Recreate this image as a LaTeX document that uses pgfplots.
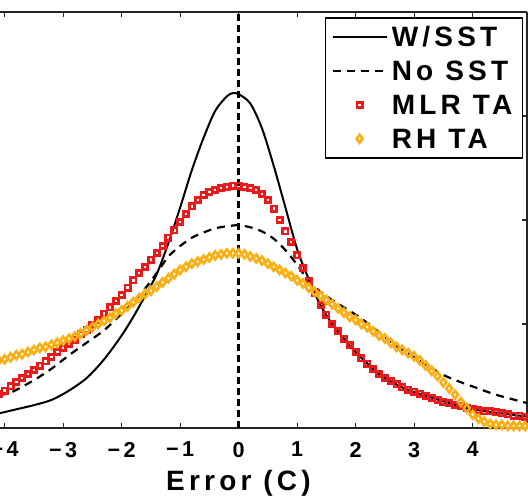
\documentclass[border=0pt]{standalone}
\usepackage{fontspec}
\setmainfont{Liberation Sans}
\newfontfamily\lsfont[LetterSpace=15]{Liberation Sans}
\usepackage{pgfplots}
\pgfplotsset{compat=1.18}
\definecolor{mred}{RGB}{235,25,25}
\definecolor{morange}{RGB}{250,175,20}
\begin{document}
\begin{tikzpicture}
\begin{axis}[
  scale only axis, width=263.5pt, height=208pt,
  xmin=-4.08, xmax=4.93, ymin=0, ymax=0.4,
  axis x line*=box, axis y line*=right,
  tick align=inside,
  clip=false,
  xtick={-4,-3,-2,-1,0,1,2,3,4},
  xticklabels={−4,−3,−2,−1,0,1,2,3,4},
  ytick={0,0.1,0.2,0.3,0.4}, yticklabels={},
  major tick length=2.5pt,
  axis line style={line width=0.8pt, black!85},
  tick style={line width=0.6pt, black!85},
  xticklabel style={font=\lsfont\bfseries\fontsize{10.8}{12}\selectfont, yshift=-3.5pt},
  xlabel={Error (C)},
  xlabel style={font=\lsfont\bfseries\fontsize{14}{15}\selectfont, yshift=0.5pt, xshift=-12.5pt},
  legend cell align=left,
  legend image code/.code={\draw[mark repeat=2,mark phase=2,#1] plot coordinates {(0pt,0pt) (13.5pt,0pt) (27pt,0pt)};},
  legend style={at={(rel axis cs:0.9924,0.988)}, anchor=north east, draw=black, line width=0.75pt,
    font=\lsfont\bfseries\fontsize{14}{16}\selectfont, inner xsep=3pt, inner ysep=4.5pt,
    nodes={inner ysep=0pt, inner xsep=2pt, text height=10pt, text depth=0pt}, row sep=7pt},
]
\addplot[black, line width=1pt, smooth] coordinates {
(-4.1,0.014) (-3.8,0.018) (-3.5,0.022) (-3.2,0.027) (-2.9,0.036) (-2.6,0.048) (-2.3,0.066)
(-2.0,0.089) (-1.8,0.107) (-1.6,0.127) (-1.4,0.148) (-1.2,0.178) (-1.0,0.212) (-0.8,0.248)
(-0.6,0.279) (-0.4,0.305) (-0.2,0.319) (-0.1,0.322) (0.0,0.321) (0.2,0.312) (0.4,0.288)
(0.6,0.252) (0.8,0.212) (1.0,0.172) (1.2,0.143) (1.4,0.118) (1.6,0.100) (1.8,0.086)
(2.0,0.073) (2.4,0.052) (2.8,0.039) (3.2,0.031) (3.6,0.024) (4.0,0.018) (4.5,0.014) (4.93,0.011)};
\addlegendentry{W/SST}
\addplot[black, line width=1.1pt, smooth, dash pattern=on 4pt off 3pt] coordinates {
(-4.1,0.032) (-3.9,0.034) (-3.5,0.046) (-3.2,0.057) (-2.9,0.070) (-2.6,0.082) (-2.3,0.094)
(-2.0,0.110) (-1.8,0.121) (-1.6,0.134) (-1.4,0.149) (-1.2,0.165) (-1.0,0.175) (-0.8,0.183)
(-0.6,0.188) (-0.4,0.192) (-0.2,0.194) (0.0,0.195) (0.2,0.193) (0.4,0.189) (0.6,0.182)
(0.8,0.171) (1.0,0.157) (1.2,0.141) (1.4,0.131) (1.6,0.123) (1.8,0.116) (2.0,0.109)
(2.2,0.101) (2.4,0.092) (2.6,0.083) (2.8,0.075) (3.0,0.068) (3.2,0.061) (3.5,0.051)
(3.8,0.044) (4.0,0.040) (4.4,0.032) (4.93,0.024)};
\addlegendentry{No SST}
\addplot[only marks, mark=square, mark size=1.3pt, mred, mark options={line width=1.4pt, fill=none}] coordinates {
(-4.1,0.033) (-4.0,0.036) (-3.9,0.040) (-3.8,0.044) (-3.7,0.048) (-3.6,0.052) (-3.5,0.056)
(-3.4,0.060) (-3.3,0.064) (-3.2,0.068) (-3.1,0.073) (-3.0,0.077) (-2.9,0.081) (-2.8,0.085)
(-2.7,0.090) (-2.6,0.094) (-2.5,0.099) (-2.4,0.104) (-2.3,0.110) (-2.2,0.116) (-2.1,0.122)
(-2.0,0.128) (-1.9,0.135) (-1.8,0.142) (-1.7,0.149) (-1.6,0.155) (-1.5,0.162) (-1.4,0.168)
(-1.3,0.175) (-1.2,0.183) (-1.1,0.190) (-1.0,0.198) (-0.9,0.206) (-0.8,0.213) (-0.7,0.219)
(-0.6,0.224) (-0.5,0.227) (-0.4,0.229) (-0.3,0.231) (-0.2,0.232) (-0.1,0.233) (0.0,0.233)
(0.1,0.232) (0.2,0.231) (0.3,0.229) (0.4,0.225) (0.5,0.219) (0.6,0.211) (0.7,0.200)
(0.8,0.189) (0.9,0.179) (1.0,0.166) (1.1,0.154) (1.2,0.141) (1.3,0.130) (1.4,0.118)
(1.5,0.109) (1.6,0.100) (1.7,0.093) (1.8,0.086) (1.9,0.080) (2.0,0.073) (2.1,0.067)
(2.2,0.062) (2.3,0.057) (2.4,0.052) (2.5,0.048) (2.6,0.045) (2.7,0.042) (2.8,0.039)
(2.9,0.037) (3.0,0.035) (3.1,0.033) (3.2,0.031) (3.3,0.029) (3.4,0.027) (3.5,0.025)
(3.6,0.024) (3.7,0.022) (3.8,0.021) (3.9,0.019) (4.0,0.018) (4.1,0.017) (4.2,0.016)
(4.3,0.016) (4.4,0.015) (4.5,0.014) (4.6,0.013) (4.7,0.012) (4.8,0.012) (4.9,0.011)};
\addlegendentry{MLR TA}
\addplot[only marks, mark=diamond, mark size=2.0pt, morange, mark options={line width=1.3pt, fill=none}] coordinates {
(-4.1,0.065) (-4.0,0.066) (-3.9,0.068) (-3.8,0.070) (-3.7,0.071) (-3.6,0.073) (-3.5,0.075)
(-3.4,0.077) (-3.3,0.078) (-3.2,0.080) (-3.1,0.082) (-3.0,0.084) (-2.9,0.086) (-2.8,0.088)
(-2.7,0.091) (-2.6,0.094) (-2.5,0.097) (-2.4,0.100) (-2.3,0.103) (-2.2,0.106) (-2.1,0.110)
(-2.0,0.113) (-1.9,0.117) (-1.8,0.121) (-1.7,0.125) (-1.6,0.129) (-1.5,0.132) (-1.4,0.136)
(-1.3,0.140) (-1.2,0.144) (-1.1,0.148) (-1.0,0.152) (-0.9,0.155) (-0.8,0.158) (-0.7,0.160)
(-0.6,0.162) (-0.5,0.164) (-0.4,0.166) (-0.3,0.167) (-0.2,0.168) (-0.1,0.168) (0.0,0.168)
(0.1,0.167) (0.2,0.165) (0.3,0.163) (0.4,0.161) (0.5,0.158) (0.6,0.155) (0.7,0.152)
(0.8,0.149) (0.9,0.146) (1.0,0.142) (1.1,0.139) (1.2,0.135) (1.3,0.131) (1.4,0.127)
(1.5,0.123) (1.6,0.119) (1.7,0.115) (1.8,0.111) (1.9,0.107) (2.0,0.104) (2.1,0.100)
(2.2,0.097) (2.3,0.093) (2.4,0.089) (2.5,0.086) (2.6,0.082) (2.7,0.078) (2.8,0.075)
(2.9,0.072) (3.0,0.069) (3.1,0.065) (3.2,0.060) (3.3,0.055) (3.4,0.050) (3.5,0.044)
(3.6,0.038) (3.7,0.032) (3.8,0.025) (3.9,0.019) (4.0,0.013) (4.1,0.009) (4.2,0.006)
(4.3,0.004) (4.4,0.003) (4.5,0.003) (4.6,0.002) (4.7,0.002) (4.8,0.002) (4.9,0.002)};
\addlegendentry{RH TA}
\addplot[black, line width=1.2pt, dash pattern=on 3.5pt off 2pt, forget plot] coordinates {(0,0) (0,0.4)};
\end{axis}
\pgfresetboundingbox
\path (current axis.south west) ++(0pt,-33.5pt) rectangle ++(264pt,247.5pt);
\end{tikzpicture}
\end{document}
